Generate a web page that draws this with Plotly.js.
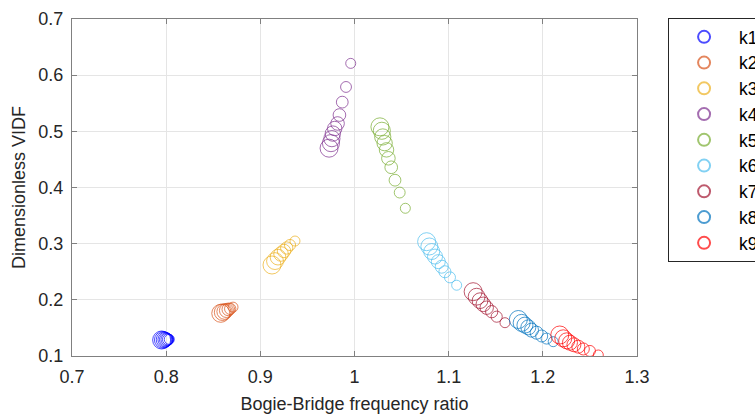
<!DOCTYPE html>
<html>
<head>
<meta charset="utf-8">
<script src="https://cdn.plot.ly/plotly-3.0.1.min.js"></script>
<style>html,body{margin:0;padding:0;background:#fff;}#chart{width:755px;height:414px;}</style>
</head>
<body>
<div id="chart"></div>
<script>
// Series data (frequency ratio, dimensionless VIDF)
const seriesNames = ['k1','k2','k3','k4','k5','k6','k7','k8','k9'];

const k1x = [0.7952, 0.7965, 0.7978, 0.7990, 0.8000, 0.8010, 0.8020, 0.8033];
const k1y = [0.1285, 0.1287, 0.1289, 0.1291, 0.1292, 0.1294, 0.1295, 0.1297];

const k2x = [0.8580, 0.8600, 0.8620, 0.8640, 0.8660, 0.8680, 0.8710];
const k2y = [0.1760, 0.1780, 0.1790, 0.1810, 0.1830, 0.1840, 0.1870];

const k3x = [0.9124, 0.9156, 0.9188, 0.9220, 0.9251, 0.9280, 0.9315, 0.9368];
const k3y = [0.2620, 0.2690, 0.2760, 0.2816, 0.2870, 0.2923, 0.2976, 0.3047];

const k4x = [0.9730, 0.9750, 0.9760, 0.9770, 0.9790, 0.9820, 0.9840, 0.9870, 0.9910, 0.9960];
const k4y = [0.4700, 0.4790, 0.4870, 0.4960, 0.5050, 0.5140, 0.5290, 0.5520, 0.5790, 0.6210];

const k5x = [1.0270, 1.0290, 1.0300, 1.0320, 1.0340, 1.0360, 1.0390, 1.0430, 1.0480, 1.0540];
const k5y = [0.5080, 0.5010, 0.4900, 0.4790, 0.4670, 0.4520, 0.4360, 0.4130, 0.3910, 0.3630];

const k6x = [1.0766, 1.0795, 1.0820, 1.0855, 1.0890, 1.0926, 1.0960, 1.1014, 1.1085];
const k6y = [0.3035, 0.2950, 0.2860, 0.2770, 0.2680, 0.2590, 0.2500, 0.2400, 0.2260];

const k7x = [1.1260, 1.1297, 1.1333, 1.1368, 1.1404, 1.1457, 1.1510, 1.1598];
const k7y = [0.2145, 0.2056, 0.1985, 0.1920, 0.1860, 0.1789, 0.1700, 0.1593];

const k8x = [1.1740, 1.1775, 1.1810, 1.1846, 1.1880, 1.1934, 1.1988, 1.2040, 1.2110];
const k8y = [0.1650, 0.1590, 0.1550, 0.1510, 0.1460, 0.1415, 0.1356, 0.1310, 0.1255];

const k9x = [1.2180, 1.2217, 1.2253, 1.2288, 1.2330, 1.2377, 1.2430, 1.2500, 1.2589];
const k9y = [0.1374, 0.1315, 0.1270, 0.1237, 0.1200, 0.1166, 0.1125, 0.1090, 0.1018];

const xTicks = [0.7, 0.8, 0.9, 1, 1.1, 1.2, 1.3];
const yTicks = [0.1, 0.2, 0.3, 0.4, 0.5, 0.6, 0.7];

const xs = [k1x,k2x,k3x,k4x,k5x,k6x,k7x,k8x,k9x];
const ys = [k1y,k2y,k3y,k4y,k5y,k6y,k7y,k8y,k9y];
const colors = ['#0000FF','#D95319','#EDB120','#7E2F8E','#77AC30','#4DBEEE','#A2142F','#0072BD','#FF0000'];

// marker diameter shrinks along each series (visual style only)
function sizesFor(n){
  const out=[];
  for(let i=0;i<n;i++){ out.push(n>1 ? 18 - 8*i/(n-1) : 14); }
  return out;
}

const traces = seriesNames.map((name,i)=>({
  type:'scatter', mode:'markers', name:name,
  x: xs[i], y: ys[i],
  marker:{symbol:'circle-open', color:colors[i], size:sizesFor(xs[i].length), line:{width:1, color:colors[i]}}
}));

const axisCommon = {
  showline:true, linecolor:'#808080', linewidth:1, mirror:'ticks',
  ticks:'inside', ticklen:5, tickcolor:'#808080', tickwidth:1,
  showgrid:true, gridcolor:'#e5e5e5', gridwidth:1, zeroline:false,
  ticklabelstandoff:4,
  tickfont:{family:'Liberation Sans, Arial, sans-serif', size:18, color:'#262626'}
};

const layout = {
  width:755, height:414,
  margin:{l:72, r:118, t:19, b:58, autoexpand:false},
  paper_bgcolor:'#fff', plot_bgcolor:'#fff',
  font:{family:'Liberation Sans, Arial, sans-serif', color:'#262626'},
  xaxis: Object.assign({}, axisCommon, {
    range:[0.7,1.3], tickvals:xTicks,
    title:{text:'Bogie-Bridge frequency ratio', font:{size:18, color:'#262626'}, standoff:14}
  }),
  yaxis: Object.assign({}, axisCommon, {
    range:[0.1,0.7], tickvals:yTicks,
    title:{text:'Dimensionless VIDF', font:{size:18, color:'#262626'}, standoff:8}
  }),
  showlegend:true,
  legend:{x:1.055, y:1.003, xanchor:'left', yanchor:'top',
    bordercolor:'#262626', borderwidth:1, bgcolor:'#fff', maxheight:1000,
    font:{size:17.5, color:'#000'}, itemsizing:'constant', itemwidth:60}
};

Plotly.newPlot('chart', traces, layout, {staticPlot:true, displayModeBar:false});
</script>
</body>
</html>
